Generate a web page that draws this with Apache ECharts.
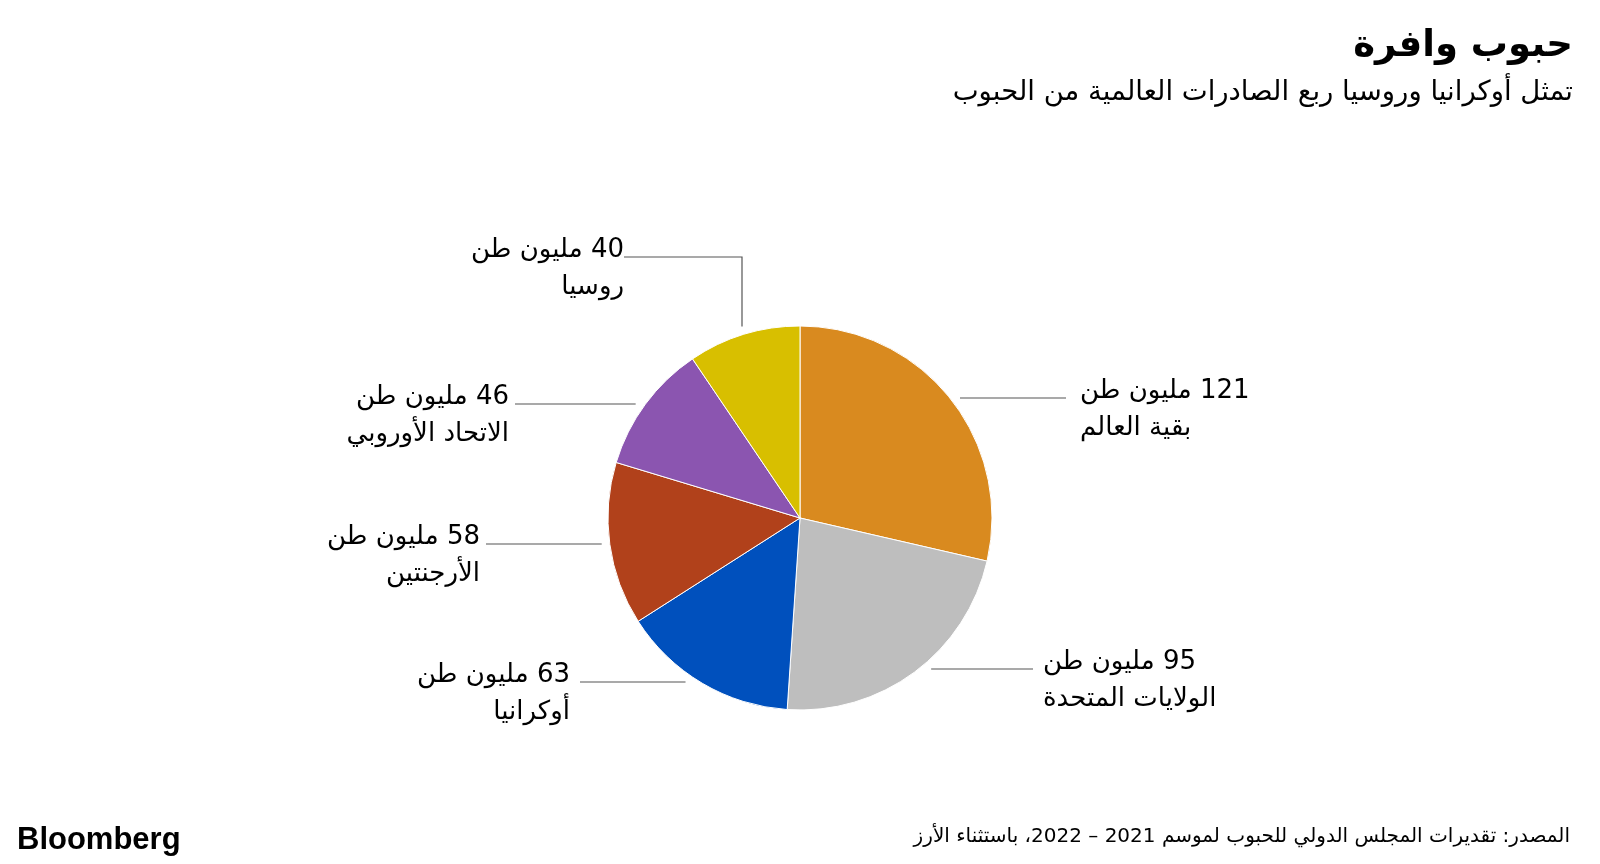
<!DOCTYPE html>
<html lang="ar" dir="rtl">
<head>
<meta charset="utf-8">
<script src="https://cdn.jsdelivr.net/npm/echarts@6/dist/echarts.min.js"></script>
<style>
html,body{margin:0;padding:0;background:#fff;}
#c{width:1600px;height:864px;}
</style>
</head>
<body>
<div id="c"></div>
<script>
// ---- data ----
const categories = ['بقية العالم', 'الولايات المتحدة', 'أوكرانيا', 'الأرجنتين', 'الاتحاد الأوروبي', 'روسيا'];
const values = [121, 95, 63, 58, 46, 40];
const unitText = 'مليون طن';
const titleText = 'حبوب وافرة';
const subtitleText = 'تمثل أوكرانيا وروسيا ربع الصادرات العالمية من الحبوب';
const sourceText = 'المصدر: تقديرات المجلس الدولي للحبوب لموسم 2021 – 2022، باستثناء الأرز';
const brandText = 'Bloomberg';

// ---- styles / layout ----
const colors = ['#D98A1F', '#BEBEBE', '#0050BD', '#B1411B', '#8B55B0', '#D8BF00'];
const CX = 800, CY = 518, R = 192, GAP = 8;
const FONT = "'DejaVu Sans', sans-serif";
const labelLayouts = [
  { side: 'right', lineY: 398, lineEnd: 1066, textX: 1080 },
  { side: 'right', lineY: 669, lineEnd: 1033, textX: 1043 },
  { side: 'left',  lineY: 682, lineEnd: 580,  textX: 570 },
  { side: 'left',  lineY: 544, lineEnd: 486,  textX: 480 },
  { side: 'left',  lineY: 404, lineEnd: 515,  textX: 509 },
  { side: 'left',  lineY: 257, lineEnd: 624,  textX: 624, elbowX: 742 }
];

const chart = echarts.init(document.getElementById('c'), null, { renderer: 'canvas' });

const data = categories.map((n, i) => ({ name: n, value: values[i], itemStyle: { color: colors[i] } }));

function layoutFn(params) {
  const L = labelLayouts[params.dataIndex];
  const rr = R + GAP;
  let pts;
  if (L.elbowX !== undefined) {
    const dx = L.elbowX - CX;
    const yEdge = CY - Math.sqrt(rr * rr - dx * dx);
    pts = [[L.elbowX, yEdge], [L.elbowX, L.lineY], [L.lineEnd, L.lineY]];
  } else {
    const dy = L.lineY - CY;
    const dx = Math.sqrt(Math.max(rr * rr - dy * dy, 0));
    const xEdge = L.side === 'right' ? CX + dx : CX - dx;
    pts = [[xEdge, L.lineY], [xEdge, L.lineY], [L.lineEnd, L.lineY]];
  }
  return {
    x: L.textX,
    y: L.lineY - 25,
    align: L.side === 'right' ? 'left' : 'right',
    verticalAlign: 'top',
    labelLinePoints: pts
  };
}

chart.setOption({
  backgroundColor: '#ffffff',
  animation: false,
  title: [
    { text: titleText, right: 22, top: 23,
      textStyle: { fontFamily: FONT, fontSize: 37, fontWeight: 'bold', color: '#000' } },
    { text: subtitleText, right: 22, top: 74,
      textStyle: { fontFamily: FONT, fontSize: 27.5, fontWeight: 'normal', color: '#000' } },
    { text: sourceText, right: 25, top: 822,
      textStyle: { fontFamily: FONT, fontSize: 20, fontWeight: 'normal', color: '#000' } },
    { text: brandText, left: 12, top: 820,
      textStyle: { fontFamily: "'Liberation Sans', Arial, sans-serif", fontSize: 31, fontWeight: 'bold', color: '#000' } }
  ],
  series: [{
    type: 'pie',
    center: [CX, CY],
    radius: R,
    startAngle: 90,
    clockwise: true,
    silent: true,
    data: data,
    itemStyle: { borderColor: '#ffffff', borderWidth: 1 },
    label: {
      show: true,
      formatter: p => p.value + ' ' + unitText + '\n' + p.name,
      fontFamily: FONT,
      fontSize: 26,
      lineHeight: 37,
      color: '#000'
    },
    labelLine: { show: true, lineStyle: { color: '#555555', width: 1.2 } },
    labelLayout: layoutFn
  }]
});
</script>
</body>
</html>
